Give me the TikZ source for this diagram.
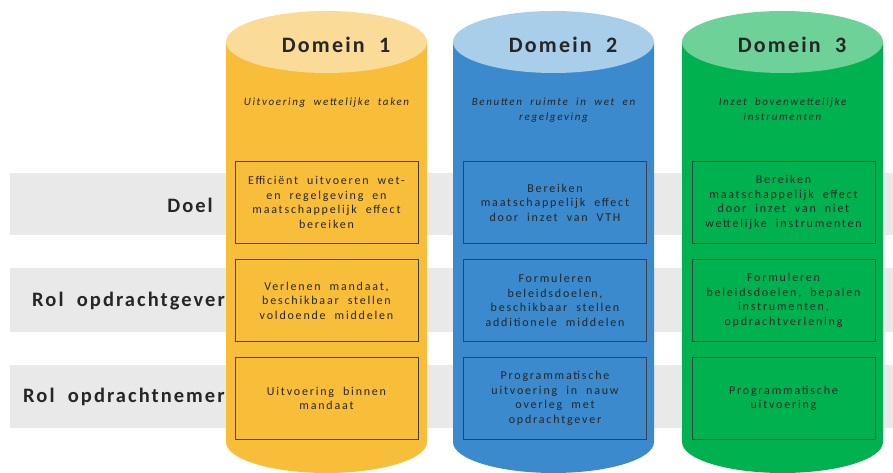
\documentclass[tikz,border=0pt]{standalone}
\usepackage{fontspec}
\setmainfont{Carlito}
\newfontfamily\vakfont[LetterSpace=15, WordSpace=2]{Carlito}
\newfontfamily\kopfont[LetterSpace=10, WordSpace=2]{Carlito}
\usetikzlibrary{positioning}

\definecolor{geel}{HTML}{F8BE3A}
\definecolor{geellicht}{HTML}{FADB97}
\definecolor{blauw}{HTML}{3A8ACD}
\definecolor{blauwlicht}{HTML}{A9CEEA}
\definecolor{groen}{HTML}{00B24F}
\definecolor{groenlicht}{HTML}{6DD198}
\definecolor{band}{HTML}{E9E9E9}
\definecolor{tekst}{HTML}{262626}

\tikzset{
  rij/.style={fill=band},
  rijlabel/.style={font=\kopfont\fontsize{20.5}{24}\selectfont\bfseries, text=tekst, inner sep=0pt},
  titel/.style={font=\kopfont\fontsize{22}{26}\selectfont\bfseries, text=tekst, anchor=base, inner sep=0pt},
  onder/.style={font=\vakfont\fontsize{11}{15}\selectfont\itshape, text=tekst, align=center, anchor=north, inner sep=0pt},
  vak/.style={draw=black!75, line width=0.8pt, minimum width=183pt, minimum height=82pt,
    align=center, font=\vakfont\fontsize{12}{14.6}\selectfont, text=tekst, inner sep=0pt}
}

\begin{document}
\begin{tikzpicture}[x=1pt, y=1pt]
    \useasboundingbox (0,0) rectangle (893,473);

    % grijze rijen
    \fill[rij] (10,238) rectangle (893,300);
    \fill[rij] (10,141) rectangle (893,205);
    \fill[rij] (10,45) rectangle (893,108);

    \node[rijlabel, anchor=base east] (doel) at (213,260) {Doel};
    \node[rijlabel, anchor=base west] (gever) at (32,166) {Rol opdrachtgever};
    \node[rijlabel, anchor=base west] (nemer) at (23,70) {Rol opdrachtnemer};

    % cilinders
    \foreach \x/\kl/\kt/\n in {226/geel/geellicht/1, 453/blauw/blauwlicht/2, 682/groen/groenlicht/3}{
        \fill[\kl] (\x,431) -- (\x,31) arc (180:360:100.5 and 31) -- (\x+201,431) -- cycle;
        \fill[\kt] (\x+100.5,431) ellipse (100.5 and 31);
        \node[titel] (dom\n) at (\x+110,420) {Domein \n};
    }

    \node[onder] (sub1) at (326.5,375) {Uitvoering wettelijke taken};
    \node[onder] (sub2) at (553.5,375) {Benutten ruimte in wet en\\regelgeving};
    \node[onder] (sub3) at (782.5,375) {Inzet bovenwettelijke\\instrumenten};

    % domein 1
    \node[vak] (d1doel) at (326.5,270.5) {Efficiënt uitvoeren wet-\\en regelgeving en\\maatschappelijk effect\\bereiken};
    \node[vak] (d1gever) at (326.5,172.5) {Verlenen mandaat,\\beschikbaar stellen\\voldoende middelen};
    \node[vak] (d1nemer) at (326.5,74.5) {Uitvoering binnen\\mandaat};

    % domein 2
    \node[vak] (d2doel) at (555,270.5) {Bereiken\\maatschappelijk effect\\door inzet van VTH};
    \node[vak] (d2gever) at (555,172.5) {Formuleren\\beleidsdoelen,\\beschikbaar stellen\\additionele middelen};
    \node[vak] (d2nemer) at (555,74.5) {Programmatische\\uitvoering in nauw\\overleg met\\opdrachtgever};

    % domein 3
    \node[vak] (d3doel) at (783.5,270.5) {Bereiken\\maatschappelijk effect\\door inzet van niet\\wettelijke instrumenten};
    \node[vak] (d3gever) at (783.5,172.5) {Formuleren\\beleidsdoelen, bepalen\\instrumenten,\\opdrachtverlening};
    \node[vak] (d3nemer) at (783.5,74.5) {Programmatische\\uitvoering};
\end{tikzpicture}
\end{document}
